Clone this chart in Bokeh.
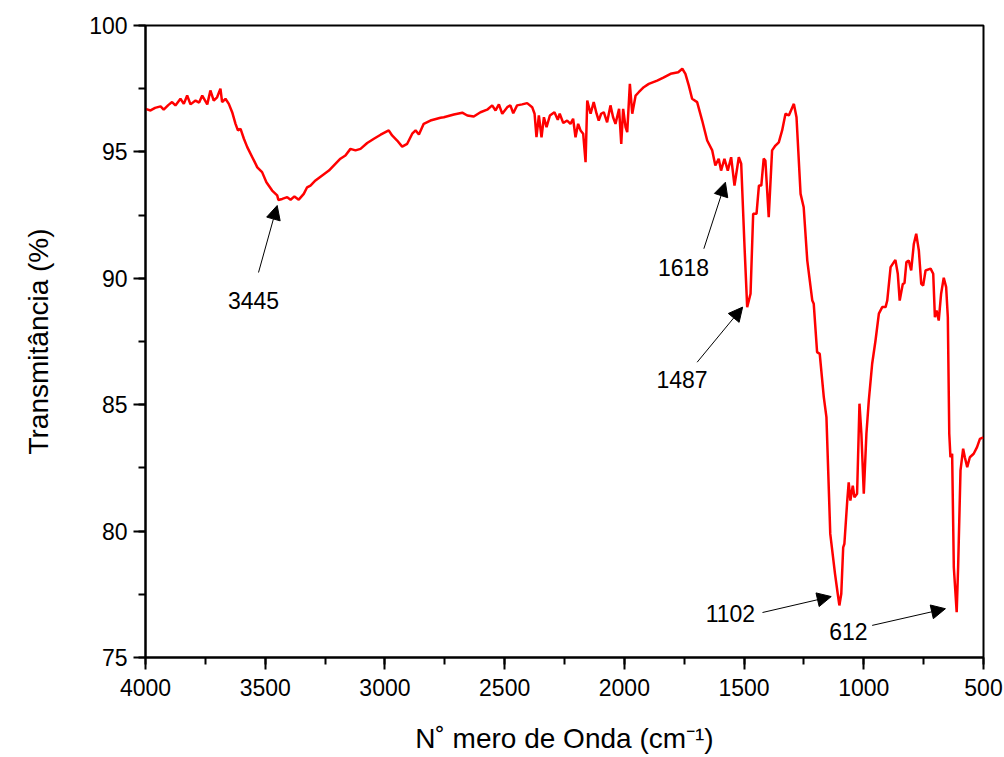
from bokeh.plotting import figure
from bokeh.models import (Range1d, SingleIntervalTicker, Arrow, NormalHead,
                          ColumnDataSource)
from bokeh.core.properties import value
from bokeh.embed import file_html
from bokeh.resources import INLINE

# FTIR spectrum: wavenumber (cm-1) and transmittance (%)
wavenumber = [4000, 3979, 3960, 3937, 3924, 3905, 3889, 3875, 3854, 3840, 3826, 3812,
              3791, 3776, 3763, 3742, 3729, 3715, 3701, 3687, 3680, 3666, 3652, 3638,
              3624, 3614, 3603, 3589, 3575, 3554, 3533, 3513, 3495, 3471, 3450, 3445,
              3429, 3408, 3394, 3378, 3360, 3339, 3325, 3311, 3290, 3262, 3234, 3214,
              3186, 3165, 3144, 3123, 3102, 3074, 3046, 3018, 2984, 2970, 2949, 2928,
              2907, 2886, 2872, 2858, 2838, 2810, 2768, 2754, 2712, 2677, 2656, 2629,
              2601, 2573, 2552, 2538, 2524, 2510, 2489, 2476, 2464, 2448, 2427, 2406,
              2385, 2375, 2367, 2357, 2346, 2336, 2325, 2311, 2292, 2278, 2270, 2255,
              2239, 2225, 2214, 2204, 2193, 2183, 2172, 2162, 2155, 2141, 2128, 2116,
              2107, 2097, 2086, 2072, 2058, 2047, 2037, 2027, 2022, 2013, 2005, 1995,
              1988, 1977, 1967, 1953, 1940, 1919, 1898, 1863, 1837, 1807, 1775, 1758,
              1745, 1731, 1717, 1696, 1675, 1654, 1633, 1620, 1606, 1596, 1582, 1568,
              1554, 1540, 1522, 1512, 1498, 1487, 1473, 1462, 1448, 1438, 1428, 1418,
              1411, 1397, 1383, 1369, 1355, 1341, 1327, 1313, 1292, 1281, 1264, 1251,
              1236, 1215, 1209, 1195, 1184, 1167, 1156, 1140, 1120, 1110, 1102, 1094,
              1086, 1081, 1069, 1063, 1056, 1046, 1039, 1028, 1018, 1010, 1000, 989,
              979, 965, 951, 937, 923, 909, 902, 888, 868, 858, 850, 837,
              830, 822, 812, 802, 791, 781, 770, 760, 752, 742, 721, 710,
              703, 696, 687, 677, 666, 656, 649, 643, 638, 631, 624, 612,
              606, 596, 585, 578, 568, 557, 541, 527, 515, 501]

transmittance = [96.70, 96.64, 96.74, 96.80, 96.67, 96.85, 96.97, 96.84, 97.10, 96.90, 97.23, 96.88,
                 97.03, 96.95, 97.23, 96.88, 97.43, 97.03, 97.16, 97.50, 96.97, 97.10, 96.90, 96.57,
                 96.11, 95.85, 95.91, 95.52, 95.19, 94.79, 94.39, 94.20, 93.80, 93.47, 93.28, 93.10,
                 93.14, 93.21, 93.11, 93.24, 93.11, 93.34, 93.60, 93.67, 93.87, 94.07, 94.26, 94.46,
                 94.73, 94.86, 95.12, 95.06, 95.12, 95.35, 95.52, 95.68, 95.85, 95.65, 95.45, 95.21,
                 95.32, 95.72, 95.85, 95.69, 96.11, 96.24, 96.35, 96.37, 96.48, 96.55, 96.44, 96.40,
                 96.57, 96.67, 96.84, 96.64, 96.88, 96.51, 96.77, 96.84, 96.53, 96.84, 96.88, 96.93,
                 96.77, 96.51, 95.58, 96.44, 95.58, 96.37, 95.98, 96.44, 96.57, 96.27, 96.51, 96.14,
                 96.24, 96.11, 96.31, 95.58, 96.11, 95.85, 95.72, 94.59, 97.03, 96.51, 96.97, 96.51,
                 96.24, 96.51, 96.57, 96.17, 96.84, 96.37, 96.11, 96.51, 96.70, 95.32, 96.70, 95.98,
                 95.78, 97.69, 96.51, 97.23, 97.36, 97.56, 97.69, 97.82, 97.94, 98.09, 98.15, 98.29,
                 98.09, 97.63, 97.10, 96.97, 96.24, 95.45, 95.06, 94.46, 94.73, 94.26, 94.73, 94.26,
                 94.79, 93.67, 94.79, 94.53, 91.23, 88.86, 89.39, 92.55, 92.55, 93.67, 93.67, 94.73,
                 94.66, 92.42, 95.06, 95.25, 95.38, 95.85, 96.51, 96.44, 96.90, 96.37, 93.34, 92.81,
                 90.70, 89.12, 88.99, 87.08, 87.01, 85.30, 84.51, 79.89, 78.30, 77.60, 77.06, 77.52,
                 79.36, 79.50, 81.21, 81.93, 81.21, 81.80, 81.34, 81.48, 85.04, 83.85, 81.48, 83.85,
                 85.17, 86.62, 87.54, 88.60, 88.86, 88.86, 89.12, 90.44, 90.73, 90.18, 89.12, 89.78,
                 89.81, 90.64, 90.70, 90.31, 91.36, 91.76, 91.10, 89.78, 89.71, 90.31, 90.38, 90.18,
                 88.46, 88.73, 88.33, 89.39, 90.02, 89.65, 88.46, 83.85, 82.92, 83.06, 78.57, 76.79,
                 78.57, 82.40, 83.26, 82.92, 82.53, 82.92, 83.06, 83.32, 83.65, 83.71]

# Band annotations: text, text position, arrow tail and arrow tip (data units)
band_labels = ["3445", "1618", "1487", "1102", "612"]
label_wn = [3549, 1753, 1759, 1557, 1064]
label_t = [89.12, 90.43, 86.00, 76.76, 76.03]
tail_wn = [3528, 1668, 1696, 1423, 965]
tail_t = [90.23, 91.17, 86.68, 76.78, 76.27]
tip_wn = [3450, 1578, 1506, 1136, 659]
tip_t = [92.88, 93.80, 88.86, 77.41, 76.93]

FONT = "Liberation Sans"

p = figure(width=1004, height=757, output_backend="svg", toolbar_location=None,
           x_range=Range1d(4000, 500), y_range=Range1d(75, 100),
           min_border_left=145, min_border_right=21, min_border_top=25,
           min_border_bottom=100)

p.line(wavenumber, transmittance, line_color="#ff0000", line_width=2.5)

for tw, tt, hw, ht in zip(tail_wn, tail_t, tip_wn, tip_t):
    p.add_layout(Arrow(x_start=tw, y_start=tt, x_end=hw, y_end=ht,
                       line_color="black", line_width=1,
                       end=NormalHead(size=14, fill_color="black",
                                      line_color="black", line_width=1)))

src = ColumnDataSource(dict(x=label_wn, y=label_t, text=band_labels))
p.text(x="x", y="y", text="text", source=src, text_font=value(FONT),
       text_font_size="23px", text_align="center", text_baseline="middle",
       text_color="black")

p.grid.visible = False
p.background_fill_color = "white"
p.border_fill_color = "white"
p.outline_line_color = "black"
p.outline_line_width = 2
p.outline_line_alpha = 1

p.xaxis.ticker = SingleIntervalTicker(interval=500, num_minor_ticks=2)
p.yaxis.ticker = SingleIntervalTicker(interval=5, num_minor_ticks=2)

p.xaxis.axis_label = "N˚ mero de Onda (cm⁻¹)"
p.yaxis.axis_label = "Transmitância (%)"

for ax in (p.xaxis[0], p.yaxis[0]):
    ax.axis_line_width = 2
    ax.axis_line_color = "black"
    ax.major_tick_line_width = 2
    ax.minor_tick_line_width = 2
    ax.major_tick_line_color = "black"
    ax.minor_tick_line_color = "black"
    ax.major_tick_in = 0
    ax.minor_tick_in = 0
    ax.major_tick_out = 12
    ax.minor_tick_out = 7
    ax.major_label_text_font = FONT
    ax.major_label_text_font_size = "23px"
    ax.major_label_text_color = "black"
    ax.axis_label_text_font = FONT
    ax.axis_label_text_font_size = "28px"
    ax.axis_label_text_font_style = "normal"
    ax.axis_label_text_color = "black"

p.xaxis.major_label_standoff = 9
p.yaxis.major_label_standoff = 6
p.xaxis.axis_label_standoff = 24
p.yaxis.axis_label_standoff = 32

open("out.html", "w").write(file_html(p, INLINE))
